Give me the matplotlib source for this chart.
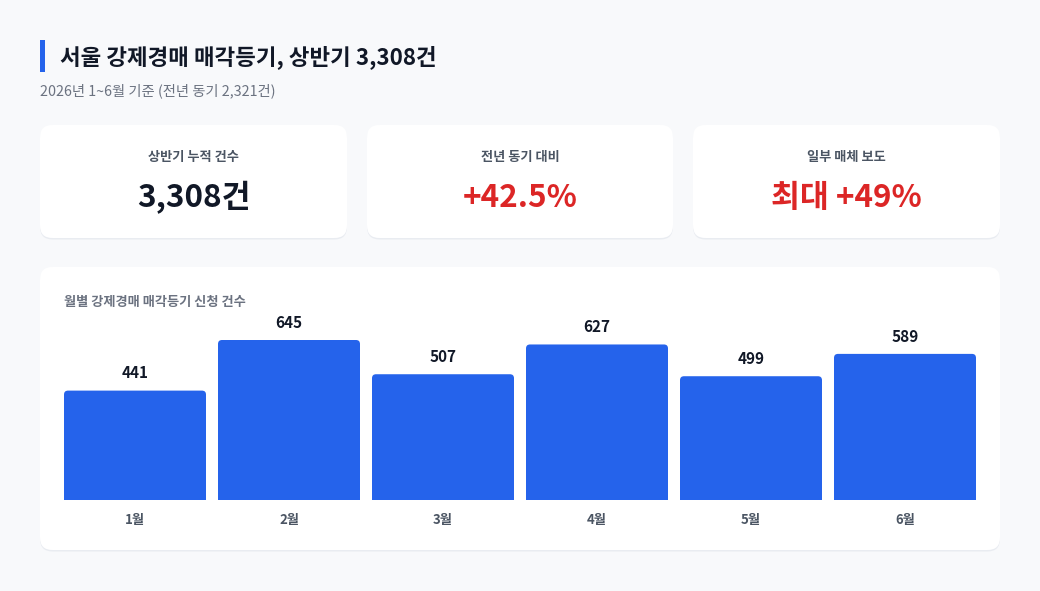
import matplotlib
matplotlib.use("Agg")
import matplotlib.pyplot as plt
from matplotlib.patches import FancyBboxPatch, Rectangle

plt.rcParams['font.family'] = ['Noto Sans CJK KR', 'DejaVu Sans']

# ---- data ----
title = "서울 강제경매 매각등기, 상반기 3,308건"
subtitle = "2026년 1~6월 기준 (전년 동기 2,321건)"
card_labels = ["상반기 누적 건수", "전년 동기 대비", "일부 매체 보도"]
card_values = ["3,308건", "+42.5%", "최대 +49%"]
card_colors = ["#111827", "#dc2626", "#dc2626"]
chart_title = "월별 강제경매 매각등기 신청 건수"
months = ["1월", "2월", "3월", "4월", "5월", "6월"]
counts = [441, 645, 507, 627, 499, 589]

W, H = 1040, 591
BG = "#f8f9fb"
BAR = "#2563eb"

fig = plt.figure(figsize=(W / 100, H / 100), dpi=100)
fig.patch.set_facecolor(BG)


def fy(y):
    return 1 - y / H


def fx(x):
    return x / W


def card(x0, y0, x1, y1):
    sh = FancyBboxPatch((fx(x0), fy(y1) - 1.5 / H), fx(x1) - fx(x0), (y1 - y0) / H,
                        boxstyle="round,pad=0,rounding_size=0.012",
                        transform=fig.transFigure, facecolor="#e9ecf1",
                        edgecolor="none", mutation_aspect=W / H, zorder=0)
    fig.patches.append(sh)
    p = FancyBboxPatch((fx(x0), fy(y1)), fx(x1) - fx(x0), (y1 - y0) / H,
                       boxstyle="round,pad=0,rounding_size=0.012",
                       transform=fig.transFigure, facecolor="white",
                       edgecolor="none", mutation_aspect=W / H, zorder=1)
    fig.patches.append(p)


# title accent bar
fig.patches.append(Rectangle((fx(40), fy(72)), 5 / W, 32 / H, transform=fig.transFigure,
                             facecolor=BAR, edgecolor="none"))
fig.text(fx(60), fy(57), title, fontsize=16.1, fontweight="bold", color="#111827",
         va="center", ha="left")
fig.text(fx(40), fy(91), subtitle, fontsize=10.3, color="#6b7280", va="center", ha="left")

# KPI cards
cards_x = [(40, 347), (367, 673), (693, 1000)]
for (x0, x1), lab, val, col in zip(cards_x, card_labels, card_values, card_colors):
    card(x0, 125, x1, 238)
    cx = (x0 + x1) / 2
    fig.text(fx(cx), fy(156.5), lab, fontsize=9.5, fontweight="bold", color="#4b5563",
             ha="center", va="center", zorder=3)
    fig.text(fx(cx), fy(198), val, fontsize=22.6, fontweight="bold", color=col,
             ha="center", va="center", zorder=3)

# chart panel
card(40, 267, 1000, 550)
fig.text(fx(64), fy(302), chart_title, fontsize=9.5, fontweight="bold", color="#6b7280",
         ha="left", va="center", zorder=3)

# bar axes: left 64..976, bottom 500, top where 645 -> 340
y_top_px = 300
ymax = counts[1] * (500 - y_top_px) / (500 - 340)
ax = fig.add_axes([fx(64), fy(500), fx(976) - fx(64), (500 - y_top_px) / H])
ax.set_facecolor("none")
ax.set_zorder(2)
n = len(months)
pos = list(range(n))
w = 142 / 154
bars = ax.bar(pos, counts, width=w, color=BAR, alpha=0)
ax.set_xlim(-w / 2, n - 1 + w / 2)
ax.set_ylim(0, ymax)
for s in ax.spines.values():
    s.set_visible(False)
ax.set_yticks([])
ax.set_xticks(pos)
ax.set_xticklabels(months, fontsize=9.5, fontweight="bold", color="#4b5563")
ax.tick_params(axis="x", length=0, pad=9.5)

fig.canvas.draw()
r = 4
for b, v in zip(bars, counts):
    (x0, y0), (x1, y1) = ax.transData.transform([(b.get_x(), 0), (b.get_x() + b.get_width(), v)])
    rp = FancyBboxPatch((x0, y0 - 2 * r), x1 - x0, y1 - y0 + 2 * r,
                        boxstyle=f"round,pad=0,rounding_size={r}", transform=None,
                        facecolor=BAR, edgecolor="none", zorder=3)
    rp.set_clip_path(Rectangle((x0 - 2, y0), x1 - x0 + 4, y1 - y0 + 10, transform=None))
    fig.patches.append(rp)
    ax.annotate(f"{v}", (b.get_x() + b.get_width() / 2, v), xytext=(0, 12.5),
                textcoords="offset points", ha="center", va="center",
                fontsize=11, fontweight="heavy", color="#111827")

fig.savefig("out.png", dpi=100, facecolor=BG)
